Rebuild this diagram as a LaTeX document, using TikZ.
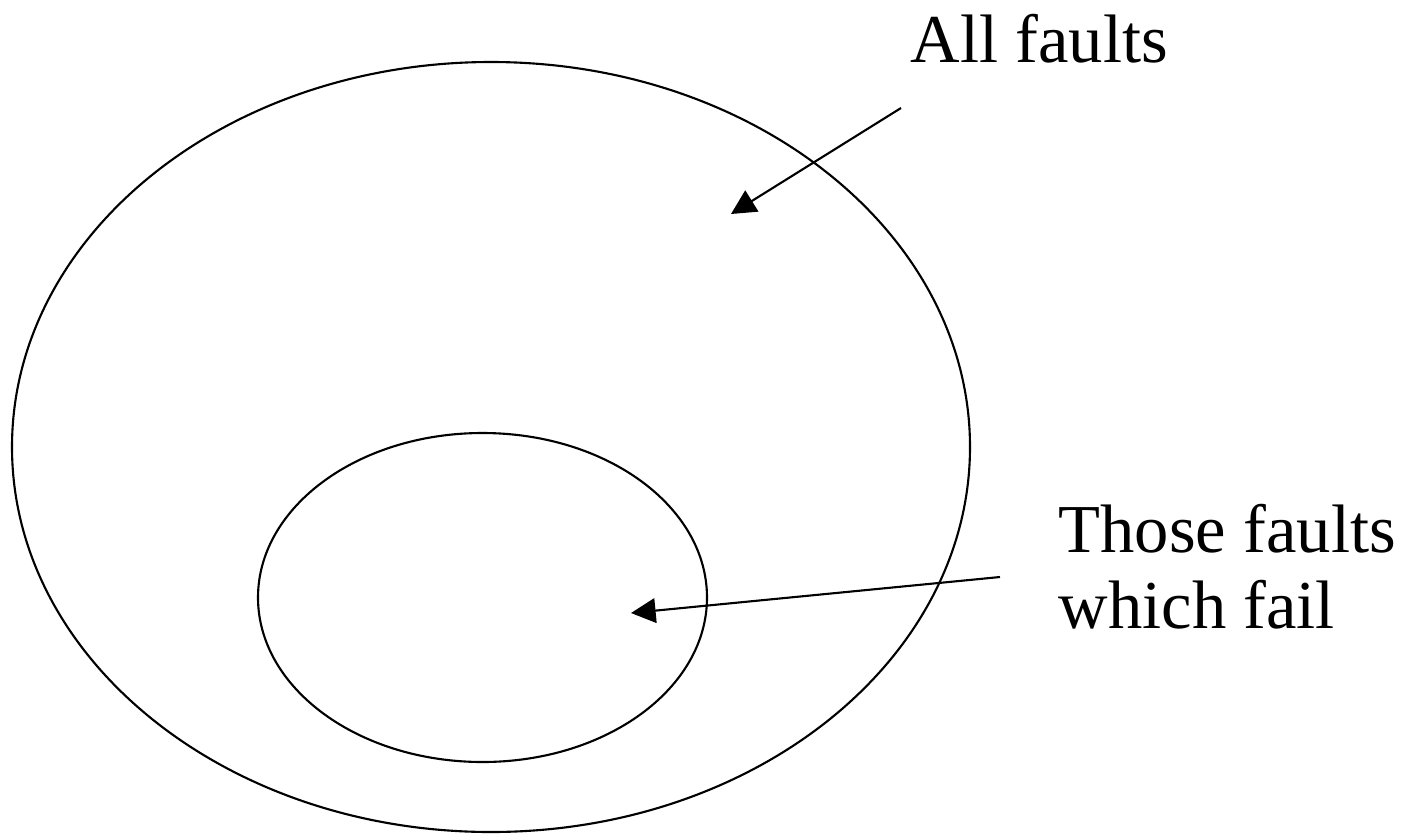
\documentclass[tikz,border=0pt]{standalone}
\usepackage{fontspec}
\setmainfont{Liberation Serif}
\usetikzlibrary{arrows.meta}
\begin{document}
\begin{tikzpicture}[x=0.01cm,y=-0.01cm,
  ring/.style={draw=black,line width=0.6pt},
  pointer/.style={draw=black,line width=0.6pt,-{Triangle[length=7pt,width=7pt]}},
  lbl/.style={font=\fontsize{19.5}{21.6}\selectfont,inner sep=0pt,align=left}]
\useasboundingbox (0,0) rectangle (1406,833);
\draw[ring] (491,447) ellipse [x radius=479, y radius=385];
\draw[ring] (482.5,597.5) ellipse [x radius=224.5, y radius=164.5];
\node[lbl,anchor=base west] (all) at (910,62) {All faults};
\node[lbl,anchor=base west] (those) at (1058,628) {Those faults\\which fail};
\coordinate (s1) at (901,108);
\coordinate (t1) at (731,214);
\coordinate (s2) at (1000,577);
\coordinate (t2) at (631,613);
\draw[pointer] (s1) -- (t1);
\draw[pointer] (s2) -- (t2);
\end{tikzpicture}
\end{document}
